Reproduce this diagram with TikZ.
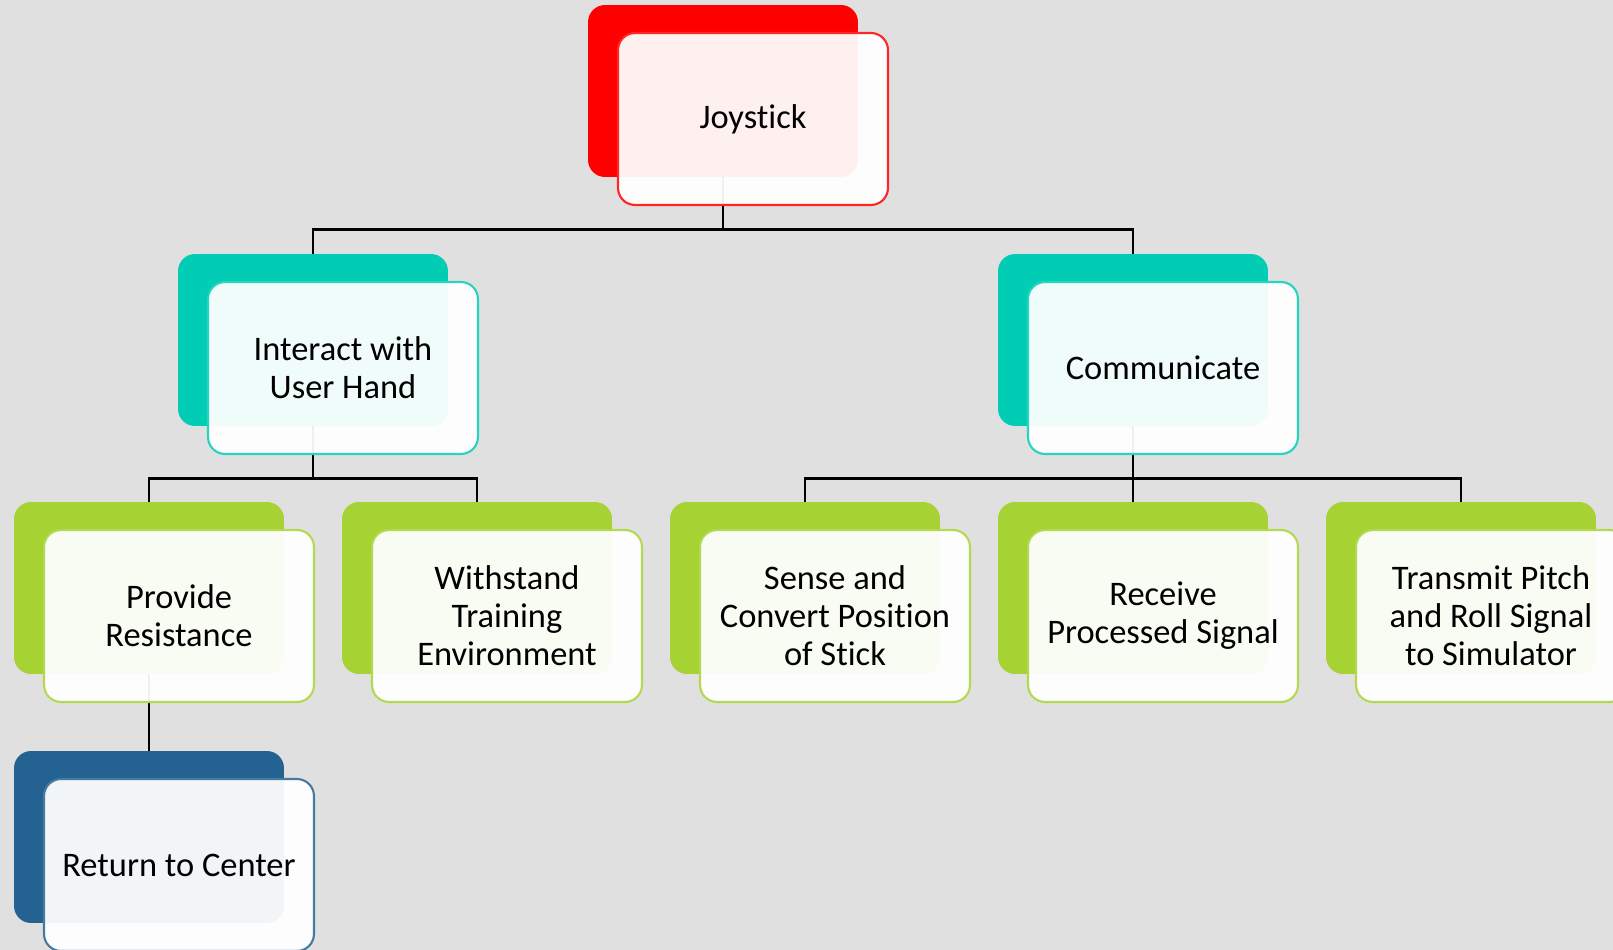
\documentclass[tikz,border=0pt]{standalone}
\usepackage{fontspec}
\setmainfont{Carlito}[Ligatures=NoCommon]
\usepackage{xcolor}
\usepackage{tikz}
\usetikzlibrary{positioning}

\definecolor{bgray}{HTML}{E0E0E0}
\definecolor{cred}{HTML}{FF0000}
\definecolor{cteal}{HTML}{00CDB4}
\definecolor{cgreen}{HTML}{A6D234}
\definecolor{cblue}{HTML}{246291}

\begin{document}
\begin{tikzpicture}[x=0.02cm,y=-0.02cm,
		back/.style={fill=#1,rounded corners=0.34cm,minimum width=5.4cm,minimum height=3.44cm,inner sep=0pt},
		front/.style={draw=#1!85!white,line width=1.2pt,fill=white,fill opacity=0.94,text opacity=1,
			rounded corners=0.34cm,minimum width=5.4cm,minimum height=3.44cm,inner sep=0pt,
			align=center,font=\fontsize{19.6}{21.6}\selectfont,xshift=0.6cm,yshift=-0.56cm},
		link/.style={line width=1.4pt}]
		\useasboundingbox (0,0) rectangle (1613,950);
		\fill [bgray] (0,0) rectangle (1613,950);
		\clip (0,0) rectangle (1613,950);
		\node [back=cred] (js) at (723,91) {};
		\node [back=cteal] (ia) at (313,340) {};
		\node [back=cteal] (cm) at (1133,340) {};
		\node [back=cgreen] (pr) at (149,588) {};
		\node [back=cgreen] (wt) at (477,588) {};
		\node [back=cgreen] (sc) at (805,588) {};
		\node [back=cgreen] (rp) at (1133,588) {};
		\node [back=cgreen] (tp) at (1461,588) {};
		\node [back=cblue] (rc) at (149,837) {};
		\draw [link] (js.south) -- ++(0,52) -| (ia.north);
		\draw [link] (js.south) -- ++(0,52) -| (cm.north);
		\draw [link] (ia.south) -- ++(0,52) -| (pr.north);
		\draw [link] (ia.south) -- ++(0,52) -| (wt.north);
		\draw [link] (cm.south) -- ++(0,52) -| (sc.north);
		\draw [link] (cm.south) -- (rp.north);
		\draw [link] (cm.south) -- ++(0,52) -| (tp.north);
		\draw [link] (pr.south) -- (rc.north);
		\node [front=cred] (jsf) at (js) {Joystick};
		\node [front=cteal] (iaf) at (ia) {Interact with\\User Hand};
		\node [front=cteal] (cmf) at (cm) {Communicate};
		\node [front=cgreen] (prf) at (pr) {Provide\\Resistance};
		\node [front=cgreen] (wtf) at (wt) {Withstand\\Training\\Environment};
		\node [front=cgreen] (scf) at (sc) {Sense and\\Convert Position\\of Stick};
		\node [front=cgreen] (rpf) at (rp) {Receive\\Processed Signal};
		\node [front=cgreen] (tpf) at (tp) {Transmit Pitch\\and Roll Signal\\to Simulator};
		\node [front=cblue] (rcf) at (rc) {Return to Center};
	\end{tikzpicture}
\end{document}
